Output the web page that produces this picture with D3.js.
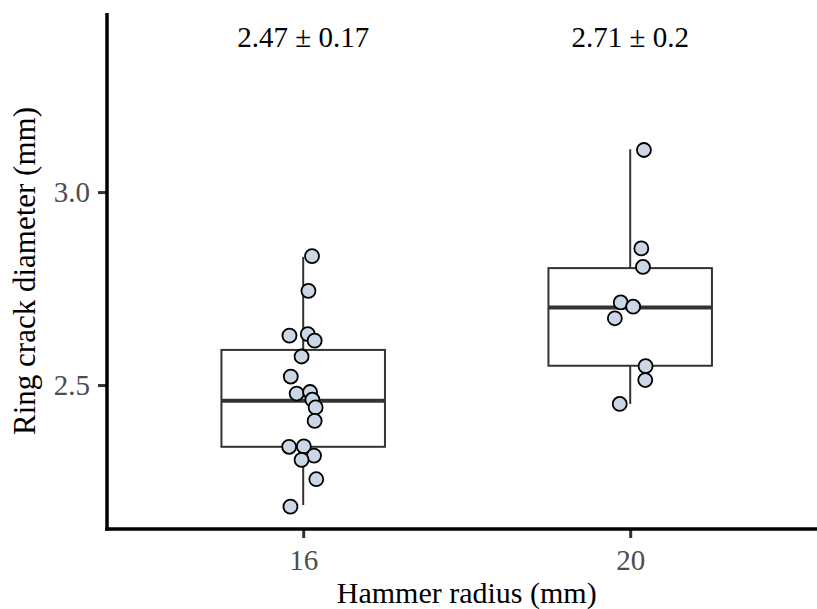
<!DOCTYPE html>
<html>
<head>
<meta charset="utf-8">
<script src="https://cdn.jsdelivr.net/npm/d3@7"></script>
<style>
  html, body { margin: 0; padding: 0; background: #fff; }
  svg { display: block; }
  text { font-family: "Liberation Serif", "Times New Roman", serif; }
</style>
</head>
<body>
<svg id="chart" width="817" height="609"></svg>
<script>
// ---- data ----
const categories = ["16", "20"];
const yTicks = [2.5, 3.0];
const yDomain = [2.127, 3.464];

// box statistics per category: [lowerWhisker, q1, median, q3, upperWhisker]
const box16 = [2.189, 2.340, 2.459, 2.591, 2.832];
const box20 = [2.451, 2.550, 2.701, 2.803, 3.111];

// observed points: values and horizontal jitter (in category-band units)
const values16 = [2.834, 2.744, 2.628, 2.632, 2.615, 2.574, 2.522, 2.478, 2.482,
                  2.462, 2.442, 2.407, 2.340, 2.341, 2.317, 2.306, 2.256, 2.185];
const jitter16 = [0.027, 0.016, -0.042, 0.014, 0.035, -0.005, -0.038, -0.020, 0.021,
                  0.028, 0.038, 0.035, -0.043, 0.002, 0.033, -0.005, 0.040, -0.039];
const values20 = [3.109, 2.854, 2.806, 2.714, 2.703, 2.673, 2.549, 2.513, 2.451];
const jitter20 = [0.042, 0.034, 0.039, -0.029, 0.009, -0.047, 0.047, 0.046, -0.032];

const labels = ["2.47 \u00B1 0.17", "2.71 \u00B1 0.2"];
const labelY = 3.376;

const xTitle = "Hammer radius (mm)";
const yTitle = "Ring crack diameter (mm)";

(function () {
// ---- layout ----
const svg = d3.select("#chart");
const mLeft = 107, mTop = 13, mBottom = 529;
const step = 327;
const mRight = mLeft + step * 2.2;

const x = d3.scalePoint().domain(categories).range([mLeft + 0.6 * step, mRight - 0.6 * step]);
const y = d3.scaleLinear().domain(yDomain).range([mBottom, mTop]);
const boxW = step * 0.5;

const boxes = [box16, box20];
const pts = [
  values16.map((v, i) => ({ c: "16", v, j: jitter16[i] })),
  values20.map((v, i) => ({ c: "20", v, j: jitter20[i] }))
].flat();

// ---- boxes ----
const g = svg.append("g");
categories.forEach((c, i) => {
  const b = boxes[i];
  const cx = x(c);
  g.append("line").attr("x1", cx).attr("x2", cx).attr("y1", y(b[3])).attr("y2", y(b[4]))
    .attr("stroke", "#333333").attr("stroke-width", 2);
  g.append("line").attr("x1", cx).attr("x2", cx).attr("y1", y(b[1])).attr("y2", y(b[0]))
    .attr("stroke", "#333333").attr("stroke-width", 2);
  g.append("rect").attr("x", cx - boxW / 2).attr("width", boxW)
    .attr("y", y(b[3])).attr("height", y(b[1]) - y(b[3]))
    .attr("fill", "#ffffff").attr("stroke", "#333333").attr("stroke-width", 2);
  g.append("line").attr("x1", cx - boxW / 2).attr("x2", cx + boxW / 2)
    .attr("y1", y(b[2])).attr("y2", y(b[2]))
    .attr("stroke", "#333333").attr("stroke-width", 4);
});

// ---- points ----
g.selectAll("circle.pt").data(pts).enter().append("circle")
  .attr("class", "pt")
  .attr("cx", d => x(d.c) + d.j * step)
  .attr("cy", d => y(d.v))
  .attr("r", 7)
  .attr("fill", "#cbd7e6")
  .attr("stroke", "#000000")
  .attr("stroke-width", 1.8);

// ---- annotations ----
svg.selectAll("text.lab").data(categories).enter().append("text")
  .attr("class", "lab")
  .attr("x", d => x(d))
  .attr("y", y(labelY))
  .attr("text-anchor", "middle")
  .attr("font-size", 29)
  .attr("fill", "#000")
  .text((d, i) => labels[i]);

// ---- axes ----
const yAxis = d3.axisLeft(y).tickValues(yTicks).tickFormat(d3.format(".1f")).tickSize(9).tickPadding(8);
const yG = svg.append("g").attr("transform", `translate(${mLeft},0)`).call(yAxis);
yG.select(".domain").remove();
yG.selectAll(".tick line").attr("stroke", "#333333").attr("stroke-width", 3);
yG.selectAll(".tick text").attr("font-size", 29).attr("fill", "#4d4d4d")
  .attr("font-family", "Liberation Serif, serif").attr("dy", "0.33em");

const xAxis = d3.axisBottom(x).tickSize(9).tickPadding(11);
const xG = svg.append("g").attr("transform", `translate(0,${mBottom})`).call(xAxis);
xG.select(".domain").remove();
xG.selectAll(".tick line").attr("stroke", "#333333").attr("stroke-width", 3);
xG.selectAll(".tick text").attr("font-size", 29).attr("fill", "#4d4d4d")
  .attr("font-family", "Liberation Serif, serif").attr("dy", "0.71em");

// axis lines
svg.append("line").attr("x1", mLeft).attr("x2", mLeft).attr("y1", mTop).attr("y2", mBottom + 1.75)
  .attr("stroke", "#000").attr("stroke-width", 3.5);
svg.append("line").attr("x1", mLeft - 1.75).attr("x2", mRight).attr("y1", mBottom).attr("y2", mBottom)
  .attr("stroke", "#000").attr("stroke-width", 3.5);

// titles
svg.append("text").attr("x", (mLeft + mRight) / 2).attr("y", 603)
  .attr("text-anchor", "middle").attr("font-size", 30).attr("fill", "#000").text(xTitle);
svg.append("text").attr("transform", `translate(35,${(mTop + mBottom) / 2}) rotate(-90)`)
  .attr("text-anchor", "middle").attr("font-size", 31).attr("fill", "#000").text(yTitle);
})();
</script>
</body>
</html>
